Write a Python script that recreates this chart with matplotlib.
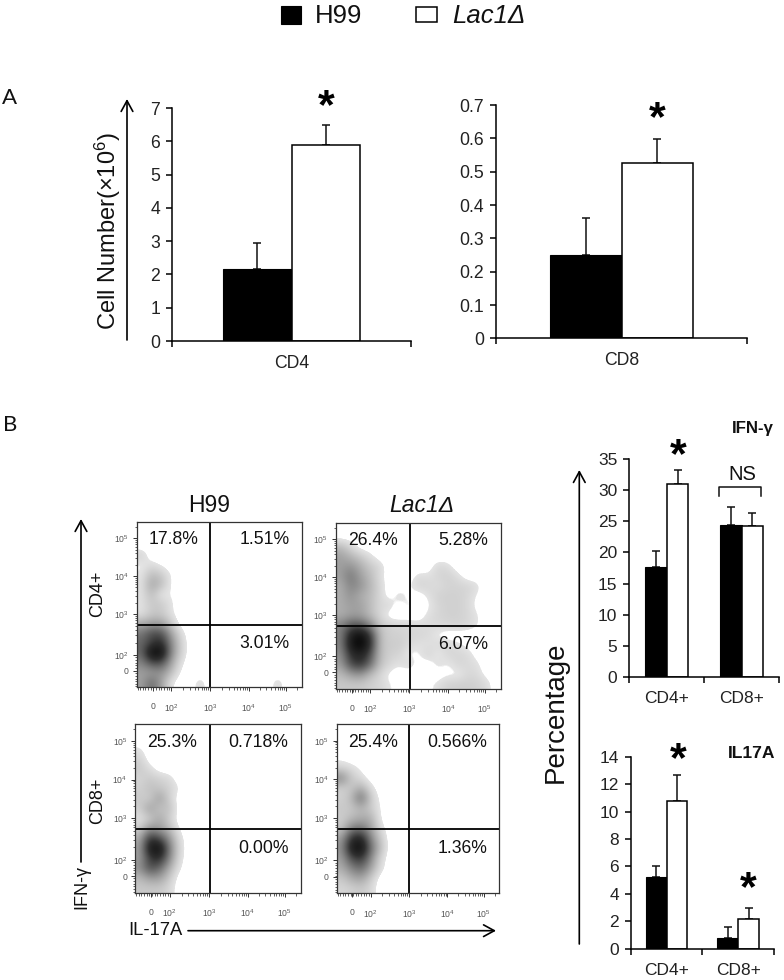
import numpy as np
import matplotlib
matplotlib.use("Agg")
import matplotlib.pyplot as plt
from matplotlib.colors import LinearSegmentedColormap
from matplotlib.patches import Rectangle

plt.rcParams['font.family'] = ['Liberation Sans', 'DejaVu Sans']
plt.rcParams['mathtext.default'] = 'regular'

# bar chart values
cd4_means = [2.15, 5.9]
cd4_errs = [0.78, 0.58]
cd8_means = [0.25, 0.527]
cd8_errs = [0.11, 0.071]

groups = ["CD4+", "CD8+"]
ifn_h99 = [17.6, 24.4]
ifn_h99_err = [2.7, 2.9]
ifn_lac = [31.0, 24.2]
ifn_lac_err = [2.2, 2.2]
il17_h99 = [5.2, 0.75]
il17_h99_err = [0.8, 0.8]
il17_lac = [10.8, 2.2]
il17_lac_err = [1.85, 0.8]

cd4_ticks = ["0", "1", "2", "3", "4", "5", "6", "7"]
cd8_ticks = ["0", "0.1", "0.2", "0.3", "0.4", "0.5", "0.6", "0.7"]
ifn_ticks = [0, 5, 10, 15, 20, 25, 30, 35]
il17_ticks = [0, 2, 4, 6, 8, 10, 12, 14]

# flow panels, darkness 0-10 on a 17 x 17 grid (short rows are empty on the right)
density_h99_cd4 = [
    [], [], [],
    [1.2],
    [0.3, 0.8, 0.3],
    [0.5, 2, 1.5, 0.4],
    [0.6, 2.8, 2, 0.3],
    [0.6, 2, 0.3, 0.5],
    [0.6, 1.5, 1.5, 0.6],
    [0.6, 1.5, 1.5, 0.6],
    [2.5, 3, 3, 1.5],
    [4.5, 6, 6, 3, 0.8],
    [5, 6.5, 7.5, 4, 1.2],
    [5, 9.5, 9.5, 4, 1.2],
    [4, 6, 6, 3, 0.6],
    [3, 3, 3.5, 2, 0.2],
    [3, 5, 3, 0.5, 0, 0, 1, 0, 0, 0, 0, 0, 0, 0, 1],
]
density_lac_cd4 = [
    [], [],
    [2, 1],
    [3, 2.2, 1.5, 0.7],
    [3, 3.5, 2.5, 1.5, 1, 0, 0, 0, 0, 0, 1, 0.8],
    [3, 4.5, 3, 2, 0.8, 0, 0, 0, 0.8, 0.6, 1, 1.2, 0.8],
    [2.5, 4, 3.5, 2.2, 1, 0, 0, 0.4, 1.1, 1, 0.7, 1.1, 1.1, 1.1, 0.8],
    [2.5, 3.5, 2.5, 2, 1, 0, 1, 0.2, 0, 0.6, 1.2, 1.2, 1.2, 1, 0.4],
    [2.5, 3, 3, 2, 0.9, 1, 0, 0.9, 0, 0.3, 1, 1.2, 1.2, 1, 0.2],
    [2.5, 3, 3, 2, 1, 0, 0, 0, 0, 0.7, 1, 1.2, 1.2, 1, 0.6],
    [4, 5.5, 5.5, 4, 1.5, 1.2, 1, 1, 0.8, 0.8, 0.9, 1, 1.1, 1, 0.6],
    [4, 8, 9.5, 7, 2, 1.2, 1.2, 1, 1, 0.9, 0.3],
    [4, 8.5, 10, 7.5, 2, 1.3, 1.4, 0.9, 0.6, 0.6, 0.9, 1, 0.7, 0.3],
    [3.5, 7, 8, 6, 2, 1.2, 1.1, 0.3, 0.3, 1.2, 0.2, 1, 1, 0.9, 0.2],
    [3, 6, 7, 5, 1.8, 1, 0.5, 1.1, 0.2, 0, 0.9, 0.3, 1, 0.9, 0.7],
    [2, 3, 3.5, 2, 1, 0.2, 0, 0, 0, 0, 0, 0.3, 0.2, 0.9, 0.9, 0.2],
    [1.5, 1.5, 1.5, 1.2, 1, 0.5, 0.3, 0, 0, 0.3, 0.7, 1.2, 1.3, 1.3, 1.2, 0.9],
]
density_h99_cd8 = [
    [], [],
    [0.6],
    [1.2],
    [1.5, 0.8],
    [1, 1.5, 1.2, 0.9],
    [1.2, 1.8, 1.6, 1.2, 0.5],
    [1.5, 1.2, 3.2, 1.2],
    [1.2, 3.2, 1.5, 2],
    [0.6, 1.2, 2.8, 1.2],
    [1.2, 3.5, 3, 2, 0.3],
    [2.5, 7, 6, 3.5, 0.8],
    [3, 8.5, 9.5, 4.5, 1],
    [3, 6.5, 7.5, 4, 0.8],
    [3.5, 6, 5, 2.5, 0.5],
    [2, 3, 3, 1.5],
    [1.5, 1.5, 1.5, 1],
]
density_lac_cd8 = [
    [], [], [],
    [0.3],
    [1, 0.8, 0.3],
    [4, 1.5, 0.8],
    [1.2, 1.5, 2.5, 0.8],
    [1.2, 2, 5, 1.5, 0.2],
    [1.5, 1.5, 2.2, 1.4, 0.4],
    [1.3, 2, 2.5, 2.5, 0.3],
    [1.5, 4, 4.5, 3, 0.8],
    [3, 7, 8, 4, 1.5],
    [3.5, 8.5, 9.5, 5, 2],
    [3, 6, 7, 4, 1],
    [2.5, 4, 5, 3, 0.8],
    [1.5, 2.5, 3, 1.5],
    [1, 1.2, 1.5, 1],
]

# quadrant percentages, upper left / upper right / lower right
pct_h99_cd4 = ["17.8%", "1.51%", "3.01%"]
pct_lac_cd4 = ["26.4%", "5.28%", "6.07%"]
pct_h99_cd8 = ["25.3%", "0.718%", "0.00%"]
pct_lac_cd8 = ["25.4%", "0.566%", "1.36%"]

W, H = 784, 980
fig = plt.figure(figsize=(W / 100, H / 100), dpi=100)


def axes_px(left, top, right, bottom):
    return fig.add_axes([left / W, 1 - bottom / H, (right - left) / W, (bottom - top) / H])


def bar_panel(box, means_a, errs_a, means_b, errs_b, names, yticks, ylabels, ymax, width, fs, ncat):
    ax = axes_px(*box)
    centers = np.arange(ncat) + 0.5
    ax.bar(centers - width / 2, means_a, width, color="black", edgecolor="black", linewidth=0.8, zorder=2)
    ax.bar(centers + width / 2, means_b, width, color="white", edgecolor="black", linewidth=1.1, zorder=2)
    ax.errorbar(centers - width / 2, means_a, yerr=[np.zeros(ncat), errs_a], fmt="none",
                ecolor="#111111", elinewidth=1.1, capsize=2.6, capthick=1.1, zorder=1)
    ax.errorbar(centers + width / 2, means_b, yerr=[np.zeros(ncat), errs_b], fmt="none",
                ecolor="#111111", elinewidth=1.1, capsize=2.6, capthick=1.1, zorder=1)
    ax.set_xlim(0, ncat)
    ax.set_ylim(0, ymax)
    ax.set_yticks(yticks)
    ax.set_yticklabels(ylabels, fontsize=fs, color="#222222")
    ax.set_xticks(centers)
    ax.set_xticklabels(names, fontsize=fs, color="#222222")
    ax.set_xticks(np.arange(ncat + 1), minor=True)
    ax.tick_params(axis="x", which="major", length=0, pad=10)
    ax.tick_params(axis="x", which="minor", length=4.5, width=1.1)
    ax.tick_params(axis="y", length=4.5, width=1.1, pad=4)
    for side in ["top", "right"]:
        ax.spines[side].set_visible(False)
    for side in ["left", "bottom"]:
        ax.spines[side].set_linewidth(1.1)
    return ax


bar_panel((172, 108, 411, 341), cd4_means[:1], cd4_errs[:1], cd4_means[1:], cd4_errs[1:], ["CD4"],
          np.arange(8), cd4_ticks, 7, 0.285, 12.7, 1)
bar_panel((496, 105, 747, 338.5), cd8_means[:1], cd8_errs[:1], cd8_means[1:], cd8_errs[1:], ["CD8"],
          np.arange(8) / 10, cd8_ticks, 0.7, 0.285, 12.7, 1)
bar_panel((629.3, 459.3, 779, 676.7), ifn_h99, ifn_h99_err, ifn_lac, ifn_lac_err, groups,
          ifn_ticks, [str(v) for v in ifn_ticks], 35, 0.29, 12.5, 2)
bar_panel((630.7, 756.7, 774, 948.7), il17_h99, il17_h99_err, il17_lac, il17_lac_err, groups,
          il17_ticks, [str(v) for v in il17_ticks], 14, 0.29, 12.5, 2)

# flow panels
cmap = LinearSegmentedColormap.from_list(
    "flow", [(0, "white"), (0.045, "white"), (0.05, "#e4e4e4"), (0.3, "#a0a0a0"),
             (0.7, "#303030"), (1, "#000000")], N=1024)

decade_pos = [2, 3, 4, 5]
x_decade_frac = [0.208, 0.446, 0.68, 0.903]
y_decade_frac = [0.195, 0.443, 0.672, 0.90]
zero_x, zero_y = 0.097, 0.099
decade_labels = ["$10^{2}$", "$10^{3}$", "$10^{4}$", "$10^{5}$"]


def minor_fracs(decade_frac):
    logs = [np.log10(m * 10.0 ** d) for d in range(2, 6) for m in range(2, 10)]
    logs = [v for v in logs if v < 5.45]
    fracs = list(np.interp(logs, decade_pos + [6], decade_frac + [decade_frac[-1] + 0.23]))
    return fracs + list(np.arange(0.005, decade_frac[0], 0.016))


def flow_panel(box, density, pct, divx, divy):
    ax = axes_px(*box)
    grid = np.zeros((17, 17))
    for i, row in enumerate(density):
        grid[i, :len(row)] = row
    ax.imshow(grid, cmap=cmap, vmin=0, vmax=10, extent=(0, 1, 0, 1), aspect="auto",
              interpolation="bicubic", interpolation_stage="data", origin="upper")
    fx = (divx - box[0]) / (box[2] - box[0])
    fy = (box[3] - divy) / (box[3] - box[1])
    ax.axvline(fx, color="black", linewidth=1.3)
    ax.axhline(fy, color="black", linewidth=1.3)
    ax.set_xlim(0, 1)
    ax.set_ylim(0, 1)
    ax.set_xticks([zero_x] + x_decade_frac)
    ax.set_xticklabels(["0"] + decade_labels, fontsize=6.2, color="#555555")
    ax.set_yticks([zero_y] + y_decade_frac)
    ax.set_yticklabels(["0"] + decade_labels, fontsize=6.2, color="#555555")
    ax.set_xticks(minor_fracs(x_decade_frac), minor=True)
    ax.set_yticks(minor_fracs(y_decade_frac), minor=True)
    ax.tick_params(which="major", length=3.2, width=0.7, color="#333333")
    ax.tick_params(which="minor", length=1.8, width=0.6, color="#444444")
    ax.tick_params(axis="x", which="major", pad=7.5)
    ax.tick_params(axis="y", which="major", pad=2.5)
    for spine in ax.spines.values():
        spine.set_linewidth(0.9)
        spine.set_color("#333333")
    ax.text(0.5 * fx, 0.89, pct[0], fontsize=12.7, color="#111111", ha="center", va="center")
    ax.text(0.925, 0.89, pct[1], fontsize=12.7, color="#111111", ha="right", va="center")
    ax.text(0.925, 0.265, pct[2], fontsize=12.7, color="#111111", ha="right", va="center")
    return ax


flow_panel((136.7, 521.7, 301.7, 687.3), density_h99_cd4, pct_h99_cd4, 210.3, 625.3)
flow_panel((336, 522.7, 500.7, 688.7), density_lac_cd4, pct_lac_cd4, 410.3, 626)
flow_panel((135.3, 724.3, 300.7, 892.7), density_h99_cd8, pct_h99_cd8, 209.7, 829.3)
flow_panel((336.7, 723.7, 499.3, 893.3), density_lac_cd8, pct_lac_cd8, 409.3, 828.7)

# overlay in picture pixels for labels, arrows and the legend
ov = fig.add_axes([0, 0, 1, 1], zorder=10)
ov.set_xlim(0, W)
ov.set_ylim(H, 0)
ov.axis("off")
ov.patch.set_alpha(0)


def label(x, y, s, size, **kw):
    kw.setdefault("color", "#111111")
    ov.text(x, y, s, fontsize=size, ha="center", va="center", **kw)


def arrow(x0, y0, x1, y1):
    ov.annotate("", xy=(x1, y1), xytext=(x0, y0),
                arrowprops=dict(arrowstyle="->,head_length=0.55,head_width=0.3", color="black",
                                linewidth=1.2, mutation_scale=14, shrinkA=0, shrinkB=0))


ov.add_patch(Rectangle((281, 6), 20, 18, facecolor="black", edgecolor="black", linewidth=0.8))
ov.add_patch(Rectangle((416, 7), 21, 15, facecolor="white", edgecolor="black", linewidth=1.1))
label(339, 16, "H99", 18.5)
label(489, 16, "Lac1Δ", 18.5, style="italic")

label(10, 98, "A", 16, family="Lato")
label(10, 425, "B", 16, family="Lato")

label(108, 231, "Cell Number(×10$^{6}$)", 17, rotation=90)
arrow(127, 340, 127, 99)

label(209.3, 505, "H99", 16.5)
label(421.7, 505, "Lac1Δ", 16.5, style="italic")
label(98, 594, "CD4+", 13, rotation=90)
label(97.7, 801, "CD8+", 13, rotation=90)
label(82, 887, "IFN-γ", 13, rotation=90)
label(155, 930, "IL-17A", 13.2)
arrow(81, 862, 81, 519)
arrow(188, 930.7, 496, 930.7)

label(556, 712, "Percentage", 20, rotation=90)
arrow(579.3, 944, 579.3, 470)
label(753, 428, "IFN-γ", 12.2, weight="bold")
label(752, 753, "IL17A", 12.6, weight="bold")

label(742, 474, "NS", 14.5)
ov.plot([719.3, 719.3, 760.7, 760.7], [496, 487.3, 487.3, 496], color="#111111", linewidth=1.1)

# significance stars
for sx, sy in [(326, 107.5), (657, 119), (678, 456.5), (678, 760.5), (748, 889.5)]:
    label(sx, sy, "*", 31, weight="bold", color="black")

fig.savefig("out.png", dpi=100)
